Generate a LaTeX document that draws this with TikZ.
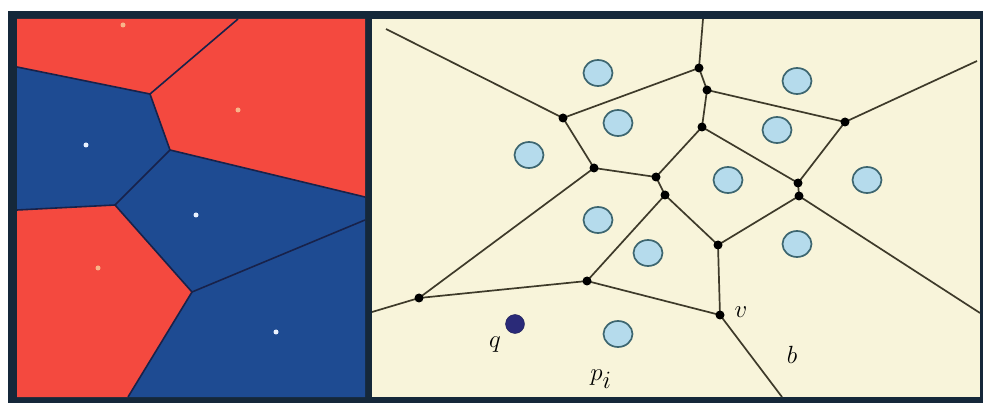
\documentclass[tikz,border=0pt]{standalone}
\usetikzlibrary{shapes.geometric}
\definecolor{framecol}{HTML}{15283A}
\definecolor{redreg}{HTML}{F4493F}
\definecolor{bluereg}{HTML}{1E4B92}
\definecolor{cream}{HTML}{F8F4DA}
\definecolor{edgecol}{HTML}{3E3A2A}
\definecolor{sitefill}{HTML}{B5DBEC}
\definecolor{siteline}{HTML}{3D6670}
\definecolor{qcol}{HTML}{2A2A78}
\definecolor{ledge}{HTML}{18224A}
\definecolor{redsite}{HTML}{F8B58A}
\definecolor{bluesite}{HTML}{EAF2FF}
\begin{document}
\begin{tikzpicture}[x=1pt,y=-1pt,
  vedge/.style={draw=edgecol, line width=1.7pt},
  ledgestyle/.style={draw=ledge, line width=1.6pt},
  vdot/.style={circle, fill=black, inner sep=0pt, minimum size=9pt},
  site/.style={ellipse, fill=sitefill, draw=siteline, line width=1.7pt, minimum width=29pt, minimum height=26pt, inner sep=0pt},
  lsite/.style={circle, inner sep=0pt, minimum size=5pt},
  lbl/.style={font=\fontsize{34}{34}\selectfont, inner sep=0pt, anchor=base}
]
\useasboundingbox (0,0) rectangle (983,403);
\fill[white] (0,0) rectangle (983,403);
\fill[framecol] (8,11) rectangle (983,403);

% ---------- left panel ----------
\coordinate (LA) at (150,94);
\coordinate (LB) at (170,150);
\coordinate (LC) at (115,205);
\coordinate (LD) at (192,292);
\coordinate (Lt) at (238,19);
\coordinate (Ll1) at (17,67);
\coordinate (Ll2) at (17,210);
\coordinate (Lr1) at (365,197);
\coordinate (Lr2) at (365,220);
\coordinate (Lb) at (128,397);
\fill[redreg] (17,19) -- (Lt) -- (LA) -- (Ll1) -- cycle;
\fill[redreg] (Lt) -- (365,19) -- (Lr1) -- (LB) -- (LA) -- cycle;
\fill[bluereg] (Ll1) -- (LA) -- (LB) -- (LC) -- (Ll2) -- cycle;
\fill[bluereg] (LB) -- (Lr1) -- (Lr2) -- (LD) -- (LC) -- cycle;
\fill[redreg] (Ll2) -- (LC) -- (LD) -- (Lb) -- (17,397) -- cycle;
\fill[bluereg] (LD) -- (Lr2) -- (365,397) -- (Lb) -- cycle;
\begin{scope}
\clip (17,19) rectangle (365,397);
\draw[ledgestyle] (Lt) -- (LA) -- (LB) -- (Lr1);
\draw[ledgestyle] (Ll1) -- (LA);
\draw[ledgestyle] (LB) -- (LC) -- (Ll2);
\draw[ledgestyle] (LC) -- (LD) -- (Lr2);
\draw[ledgestyle] (LD) -- (Lb);
\end{scope}
\node[lsite, fill=redsite] (ls1) at (123,25) {};
\node[lsite, fill=redsite] (ls2) at (238,110) {};
\node[lsite, fill=bluesite] (ls3) at (86,145) {};
\node[lsite, fill=bluesite] (ls4) at (196,215) {};
\node[lsite, fill=redsite] (ls5) at (98,268) {};
\node[lsite, fill=bluesite] (ls6) at (276,332) {};

% ---------- right panel ----------
\fill[cream] (372,19) rectangle (980,397);
\coordinate (V1) at (563,118);
\coordinate (V2) at (699,68);
\coordinate (V3) at (594,168);
\coordinate (V4) at (656,177);
\coordinate (V5) at (419,298);
\coordinate (V6) at (665,195);
\coordinate (V7) at (707,90);
\coordinate (V8) at (845,122);
\coordinate (V9) at (702,127);
\coordinate (V10) at (798,183);
\coordinate (V11) at (799,196);
\coordinate (V12) at (718,245);
\coordinate (V13) at (587,281);
\coordinate (VV) at (720,315);
\coordinate (T1) at (386,29);
\coordinate (T2) at (703,19);
\coordinate (T3) at (977,61);
\coordinate (T4) at (980,313);
\coordinate (T5) at (372,312);
\coordinate (T6) at (782,397);

\begin{scope}
\clip (372,19) rectangle (980,397);
\draw[vedge] (T1) -- (V1);
\draw[vedge] (V1) -- (V2);
\draw[vedge] (V2) -- (T2);
\draw[vedge] (V1) -- (V3);
\draw[vedge] (V3) -- (V4);
\draw[vedge] (V3) -- (V5);
\draw[vedge] (V4) -- (V6);
\draw[vedge] (V4) -- (V9);
\draw[vedge] (V2) -- (V7);
\draw[vedge] (V7) -- (V9);
\draw[vedge] (V7) -- (V8);
\draw[vedge] (V8) -- (T3);
\draw[vedge] (V8) -- (V10);
\draw[vedge] (V9) -- (V10);
\draw[vedge] (V10) -- (V11);
\draw[vedge] (V11) -- (T4);
\draw[vedge] (V11) -- (V12);
\draw[vedge] (V6) -- (V12);
\draw[vedge] (V6) -- (V13);
\draw[vedge] (V12) -- (VV);
\draw[vedge] (V13) -- (VV);
\draw[vedge] (V13) -- (V5);
\draw[vedge] (V5) -- (T5);
\draw[vedge] (VV) -- (T6);
\end{scope}

\foreach \v in {V1,V2,V3,V4,V5,V6,V7,V8,V9,V10,V11,V12,V13,VV}
  \node[vdot] (d\v) at (\v) {};

\node[site] (s1) at (598,73) {};
\node[site] (s2) at (618,123) {};
\node[site] (s3) at (529,155) {};
\node[site] (s4) at (797,81) {};
\node[site] (s5) at (777,130) {};
\node[site] (s6) at (728,180) {};
\node[site] (s7) at (867,180) {};
\node[site] (s8) at (598,220) {};
\node[site] (s9) at (648,253) {};
\node[site] (s10) at (797,244) {};
\node[site] (s11) at (618,334) {};
\node[circle, fill=qcol, draw=qcol!70!black, inner sep=0pt, minimum width=19pt] (q) at (515,324) {};

\node[lbl] (lq) at (495,348) {$q$};
\node[lbl] (lp) at (601,381) {$p_i$};
\node[lbl] (lv) at (741,318) {$v$};
\node[lbl] (lb) at (792,363) {$b$};
\end{tikzpicture}
\end{document}
